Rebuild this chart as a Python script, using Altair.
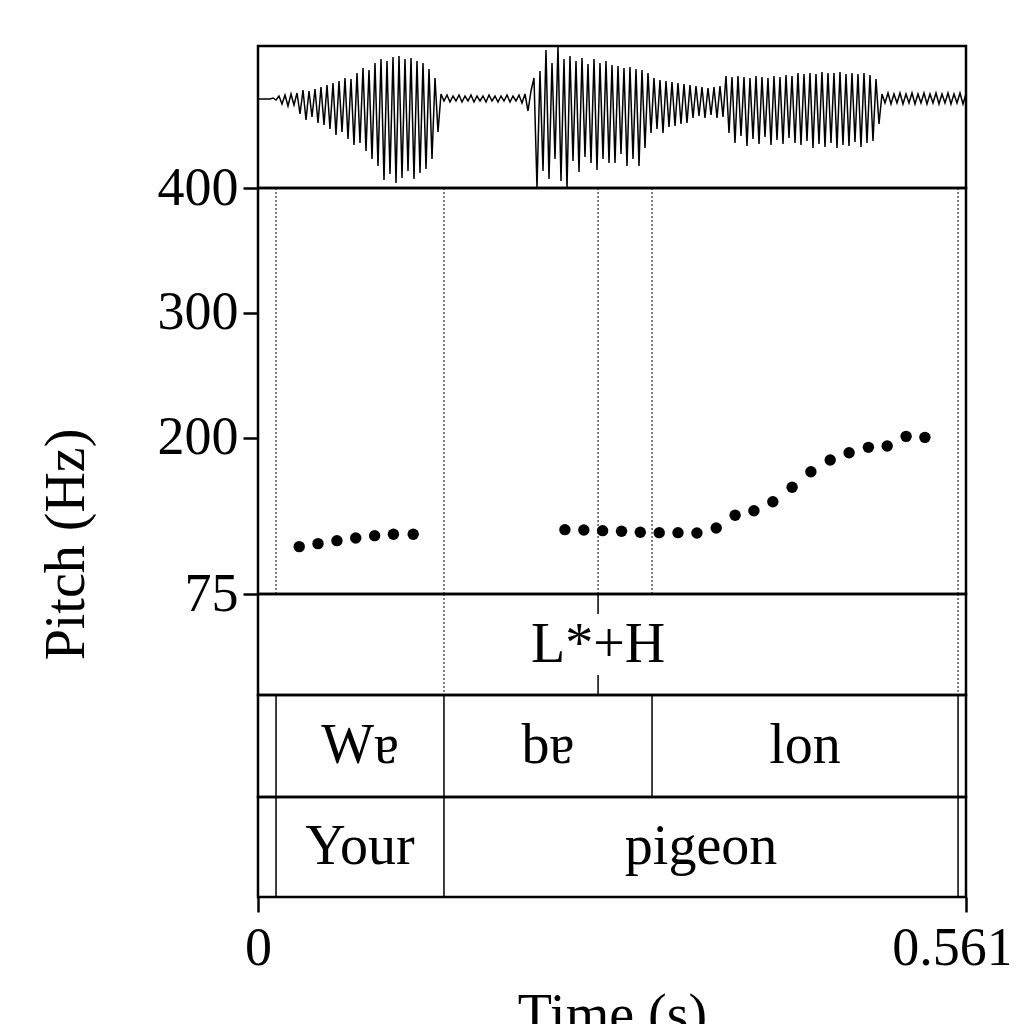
import altair as alt
import pandas as pd

FONT = "Liberation Serif, DejaVu Serif, serif"
DURATION = 0.5615

# ---- waveform (decimated samples, one every WAVE_STEP seconds) ----
WAVE_STEP = 0.0023792
wave_amp = [
    0, 0, 0, 0, 0, 1, -1,
    3, -5, 4, -7, 5, -6, 6,
    -15, 9, -21, 8, -18, 10, -24, 12,
    -26, 14, -30, 16, -36, 18, -33, 21, -40, 20, -46,
    26, -44, 31, -52, 29, -60, 36,
    -67, 40, -81, 38, -75, 42, -84, 43, -79,
    40, -72, 41, -80, 38, -74, 36, -70, 30, -60, 21,
    -33, 5,
    -2, 4, -3, 3, -2, 4, -3, 3, -2, 4, -3, 3, -2, 3, -3, 4, -2, 3, -3, 3,
    -2, 4, -3, 3, -2, 4, -4, 5,
    -12, 8, 21,
    -89, 28, -72, 49, -80, 36, -60, 53, -82, 40, -89,
    43, -62, 38, -73, 41, -58, 35, -64, 40, -71, 36, -60, 38, -64, 34,
    -64, 33, -55, 31, -67, 32, -60, 30, -67, 29, -49, 26,
    -34, 21, -30, 19, -34, 18, -28, 17, -27, 16, -25, 15, -24, 14,
    -19, 13, -17, 12, -19, 11, -16, 12, -19, 13, -18,
    23, -34, 22, -44, 23,
    -37, 22, -47, 21, -40, 23, -45, 22, -38, 21, -46, 23, -41, 22, -45, 24, -39, 23,
    -44, 26, -46, 25, -42, 26, -49, 25, -45, 27, -48, 26, -44, 26, -49, 27, -46, 25,
    -47, 26, -43, 25, -48, 26, -44, 24, -42, 20, -25,
    5, -4, 6, -5, 5, -4, 6, -5, 5, -4, 6, -5, 5, -4, 6, -5, 5, -4, 6, -5,
    5, -4, 6, -5, 5, -4, 6, -5, 5,
]
WAVE_MIN, WAVE_MAX = -89, 53

# ---- pitch track ----
pitch_t = [0.0327, 0.0476, 0.0626, 0.0775, 0.0925, 0.1074, 0.1231,
           0.2434, 0.2584, 0.2733, 0.2883, 0.3032, 0.3182, 0.3331, 0.3481,
           0.3634, 0.3784, 0.3933, 0.4083, 0.4236, 0.4385, 0.4538, 0.4688,
           0.4841, 0.4990, 0.5140, 0.5289]
pitch_hz = [112.9, 115.3, 117.7, 119.8, 121.7, 122.8, 122.8,
            126.5, 126.2, 125.7, 125.2, 124.4, 124.1, 124.1, 123.8,
            127.8, 138.0, 141.7, 148.9, 160.4, 172.9, 182.3, 188.1,
            192.4, 193.5, 201.2, 200.4]
pitch_ticks = [75, 200, 300, 400]

# ---- TextGrid ----
tone_time = [0.2697]
tone_label = ["L*+H"]
syll_start = [0.0143, 0.1475, 0.3125]
syll_end = [0.1475, 0.3125, 0.5552]
syll_label = ["W\u0250", "b\u0250", "lon"]
word_start = [0.0143, 0.1475]
word_end = [0.1475, 0.5552]
word_label = ["Your", "pigeon"]
all_bounds = [0.0143, 0.1475, 0.2697, 0.3125, 0.5552]
tone_tier_dotted = [0.1475, 0.5552]
syll_bounds = [0.0143, 0.1475, 0.3125, 0.5552]
word_bounds = [0.0143, 0.1475, 0.5552]
time_ticks = [0, DURATION]

W = 708
xs = alt.Scale(domain=[0, DURATION], nice=False, zero=False)

wave_df = pd.DataFrame({"t": [i * WAVE_STEP for i in range(len(wave_amp))],
                        "amp": wave_amp})
pitch_df = pd.DataFrame({"t": pitch_t, "hz": pitch_hz})
bounds_df = pd.DataFrame({"t": all_bounds})
tone_df = pd.DataFrame({"t": tone_time, "label": tone_label})
tone_dot_df = pd.DataFrame({"t": tone_tier_dotted})
syll_df = pd.DataFrame({"mid": [(a + b) / 2 for a, b in zip(syll_start, syll_end)],
                        "label": syll_label})
word_df = pd.DataFrame({"mid": [(a + b) / 2 for a, b in zip(word_start, word_end)],
                        "label": word_label})
syll_b_df = pd.DataFrame({"t": syll_bounds})
word_b_df = pd.DataFrame({"t": word_bounds})

# waveform panel
wave = alt.Chart(wave_df).mark_line(color="black", strokeWidth=1.5).encode(
    x=alt.X("t:Q", scale=xs, axis=None),
    y=alt.Y("amp:Q", scale=alt.Scale(domain=[WAVE_MIN, WAVE_MAX], nice=False, zero=False), axis=None),
).properties(width=W, height=142)

# pitch panel
yaxis = alt.Axis(values=pitch_ticks, title="Pitch (Hz)", tickSize=15, tickWidth=2.5,
                 tickColor="black", labelFontSize=54, labelFont=FONT, labelColor="black",
                 labelPadding=5, titleFontSize=56, titleFont=FONT, titleColor="black",
                 titleFontWeight="normal", domain=False, grid=False,
                 titleX=-175, titleY=356, titleAngle=270, titleAlign="center",
                 titleBaseline="alphabetic", labelOverlap=False, labelBound=False,
                 labelFlush=False)
pitch_rules = alt.Chart(bounds_df).mark_rule(color="black", strokeWidth=1,
                                             strokeDash=[2, 2]).encode(
    x=alt.X("t:Q", scale=xs, axis=None))
pitch_pts = alt.Chart(pitch_df).mark_circle(size=130, color="black", opacity=1).encode(
    x=alt.X("t:Q", scale=xs, axis=None),
    y=alt.Y("hz:Q", scale=alt.Scale(domain=[75, 400], nice=False, zero=False), axis=yaxis),
)
pitch = alt.layer(pitch_rules, pitch_pts).properties(width=W, height=406)

TXT = dict(font=FONT, fontSize=56, color="black", baseline="alphabetic", align="center")

# tones tier
tone_dots = alt.Chart(tone_dot_df).mark_rule(color="black", strokeWidth=1,
                                             strokeDash=[2, 2]).encode(
    x=alt.X("t:Q", scale=xs, axis=None))
tone_tick_top = alt.Chart(tone_df).mark_rule(color="black", strokeWidth=1.5).encode(
    x=alt.X("t:Q", scale=xs, axis=None), y=alt.value(0), y2=alt.value(20))
tone_tick_bot = alt.Chart(tone_df).mark_rule(color="black", strokeWidth=1.5).encode(
    x=alt.X("t:Q", scale=xs, axis=None), y=alt.value(81), y2=alt.value(101))
tone_text = alt.Chart(tone_df).mark_text(**TXT).encode(
    x=alt.X("t:Q", scale=xs, axis=None), y=alt.value(68), text="label:N")
tones = alt.layer(tone_dots, tone_tick_top, tone_tick_bot, tone_text).properties(width=W, height=101)

# syllable tier
syll_rules = alt.Chart(syll_b_df).mark_rule(color="black", strokeWidth=1.5).encode(
    x=alt.X("t:Q", scale=xs, axis=None))
syll_text = alt.Chart(syll_df).mark_text(**TXT).encode(
    x=alt.X("mid:Q", scale=xs, axis=None), y=alt.value(68), text="label:N")
sylls = alt.layer(syll_rules, syll_text).properties(width=W, height=102)

# word tier with time axis
xaxis = alt.Axis(values=time_ticks, format=".4~f", title="Time (s)", tickSize=15,
                 tickWidth=2.5, tickColor="black", labelFontSize=54, labelFont=FONT,
                 labelColor="black", labelPadding=9, titleFontSize=56, titleFont=FONT,
                 titleColor="black", titleFontWeight="normal", domain=False, grid=False,
                 labelFlush=False, labelOverlap=False, labelBound=False,
                 titleY=135, titleBaseline="alphabetic")
word_rules = alt.Chart(word_b_df).mark_rule(color="black", strokeWidth=1.5).encode(
    x=alt.X("t:Q", scale=xs, axis=xaxis, title="Time (s)"))
word_text = alt.Chart(word_df).mark_text(**TXT).encode(
    x=alt.X("mid:Q", scale=xs, axis=xaxis, title="Time (s)"), y=alt.value(67), text="label:N")
words = alt.layer(word_rules, word_text).properties(width=W, height=100)

chart = alt.vconcat(wave, pitch, tones, sylls, words, spacing=0, bounds="flush").properties(
    padding={"left": 28, "top": 33, "right": -33, "bottom": 0}
).configure(background="white").configure_view(stroke="black", strokeWidth=2.5)

chart.save("out.html", embed_options={"renderer": "svg", "actions": False})
